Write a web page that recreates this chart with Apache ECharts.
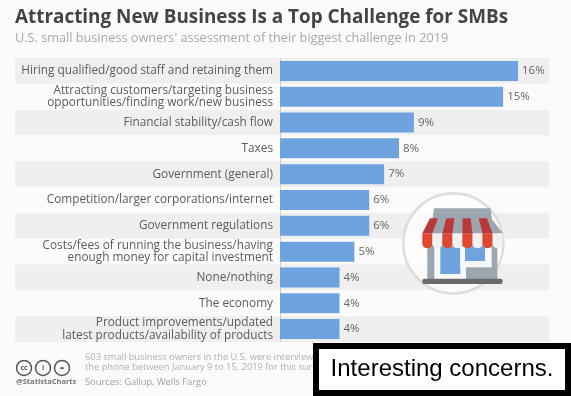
<!DOCTYPE html>
<html><head><meta charset="utf-8">
<style>html,body{margin:0;padding:0;background:#fff}#c{width:571px;height:396px}</style>
<script src="https://cdn.jsdelivr.net/npm/echarts@6/dist/echarts.min.js"></script></head>
<body><div id="c"></div>
<script>
const categories = [
 'Hiring qualified/good staff and retaining them',
 'Attracting customers/targeting business\nopportunities/finding work/new business',
 'Financial stability/cash flow',
 'Taxes',
 'Government (general)',
 'Competition/larger corporations/internet',
 'Government regulations',
 'Costs/fees of running the business/having\nenough money for capital investment',
 'None/nothing',
 'The economy',
 'Product improvements/updated\nlatest products/availability of products'
];
const shares = [16, 15, 9, 8, 7, 6, 6, 5, 4, 4, 4];
const titleText = 'Attracting New Business Is a Top Challenge for SMBs';
const subtitleText = "U.S. small business owners' assessment of their biggest challenge in 2019";
const noteLines = ['603 small business owners in the U.S. were interviewed over','the phone between January 9 to 15, 2019 for this survey.','Sources: Gallup, Wells Fargo'];
const captionText = 'Interesting concerns.';

const F = '"Open Sans", sans-serif';
const chart = echarts.init(document.getElementById('c'), null, {renderer:'canvas'});

// store icon, drawn in a 3x local space
const stripeTopL = 120, stripeTopR = 315, stripeBotL = 97, stripeW = 30.1;
const shop = [];
const R = (x,y,w,h,fill,r) => ({type:'rect',z:10,shape:{x,y,width:w,height:h,r:r||0},style:{fill}});
shop.push({type:'circle',z:10,shape:{cx:190,cy:190,r:150},style:{fill:'rgba(255,255,255,0.72)',stroke:'#dedede',lineWidth:8}});
shop.push(R(112,160,210,140,'#9ba6af'));
shop.push({type:'polygon',z:10,shape:{points:[[127,118],[132,85],[301,85],[306,118],[338,160],[97,160]]},style:{fill:'#9ba6af'}});
shop.push(R(133,200,95,97,'#f7f8f9'));
shop.push(R(151,200,60,82,'#6fa3e0'));
shop.push(R(211,200,94,62,'#f7f8f9'));
shop.push(R(225,200,60,43,'#6fa3e0'));
for (let i=0;i<8;i++){
  const tw=(stripeTopR-stripeTopL)/8, xb=stripeBotL+i*stripeW, xt=stripeTopL+i*tw;
  const red=i%2===0;
  if(red) shop.push({type:'polygon',z:10,shape:{points:[[xt,115],[xt+tw,115],[xb+stripeW,160],[xb,160]]},style:{fill:'#b8383b'}});
  shop.push(R(xb,160,stripeW,30,red?'#e2472f':'#f1f1f1'));
  shop.push({type:'circle',z:10,shape:{cx:xb+stripeW/2,cy:190,r:stripeW/2},style:{fill:red?'#e2472f':'#f1f1f1'}});
}
shop.push(R(97,296,241,16,'#6b6b6b',6));

const ccIcon = (cx,label) => [
 {type:'circle',shape:{cx,cy:368,r:7.5},style:{fill:'transparent',stroke:'#555',lineWidth:1.5}},
 {type:'text',x:cx,y:368,style:{text:label,fill:'#555',font:'bold 7px '+F,align:'center',verticalAlign:'middle'}}
];

chart.setOption({
 animation:false,
 backgroundColor:'#fbfbfb',
 title:[
  {text:titleText,left:15,top:8.5,textStyle:{fontFamily:F,fontWeight:'bold',fontSize:18.9,color:'#444'},padding:0},
  {text:subtitleText,left:15,top:32,textStyle:{fontFamily:F,fontWeight:'normal',fontSize:12.7,color:'#a8a8a8'},padding:0}
 ],
 grid:[
  {left:15,top:58,width:534,height:284,show:false},
  {left:280,top:58,width:238,height:284,show:false}
 ],
 xAxis:[
  {gridIndex:0,type:'value',min:0,max:1,show:false},
  {gridIndex:1,type:'value',min:0,max:16,show:false}
 ],
 yAxis:[
  {gridIndex:0,type:'category',inverse:true,data:categories,
   axisLine:{show:false},axisTick:{show:false},axisLabel:{show:false},splitLine:{show:false},
   splitArea:{show:true,areaStyle:{color:['#efefef','#fbfbfb']}}},
  {gridIndex:1,type:'category',inverse:true,data:categories,
   axisLine:{show:true,lineStyle:{color:'#cfcfcf',width:1}},axisTick:{show:false},splitLine:{show:false},
   axisLabel:{interval:0,margin:7,align:'right',color:'#5c5c5c',fontFamily:F,fontSize:11.8,lineHeight:12.5}}
 ],
 series:[{
  type:'bar',xAxisIndex:1,yAxisIndex:1,data:shares,barWidth:20,
  itemStyle:{color:'#6fa3e0'},
  label:{show:true,position:'right',distance:4,formatter:'{c}%',color:'#666',fontFamily:F,fontSize:11.5}
 }],
 graphic:[
  {type:'group',x:390,y:180,scaleX:1/3,scaleY:1/3,children:shop},
  ...ccIcon(24,'cc'),...ccIcon(43,'i'),...ccIcon(62,'='),
  {type:'text',x:16,y:382,style:{text:'@StatistaCharts',fill:'#777',font:'bold 7.5px '+F,verticalAlign:'middle'}},
  {type:'text',x:85,y:357.5,style:{text:noteLines[0],fill:'#b0b0b0',font:'9.3px '+F,verticalAlign:'middle'}},
  {type:'text',x:85,y:367.5,style:{text:noteLines[1],fill:'#b0b0b0',font:'9.3px '+F,verticalAlign:'middle'}},
  {type:'text',x:85,y:382,style:{text:noteLines[2],fill:'#a0a0a0',font:'9.3px '+F,verticalAlign:'middle'}},
  {type:'rect',z:20,shape:{x:316,y:346,width:252,height:47},style:{fill:'#fff',stroke:'#000',lineWidth:6}},
  {type:'text',z:21,x:442,y:369,style:{text:captionText,fill:'#000',font:'24px "Liberation Sans", Arial, sans-serif',align:'center',verticalAlign:'middle'}}
 ]
});
</script></body></html>
